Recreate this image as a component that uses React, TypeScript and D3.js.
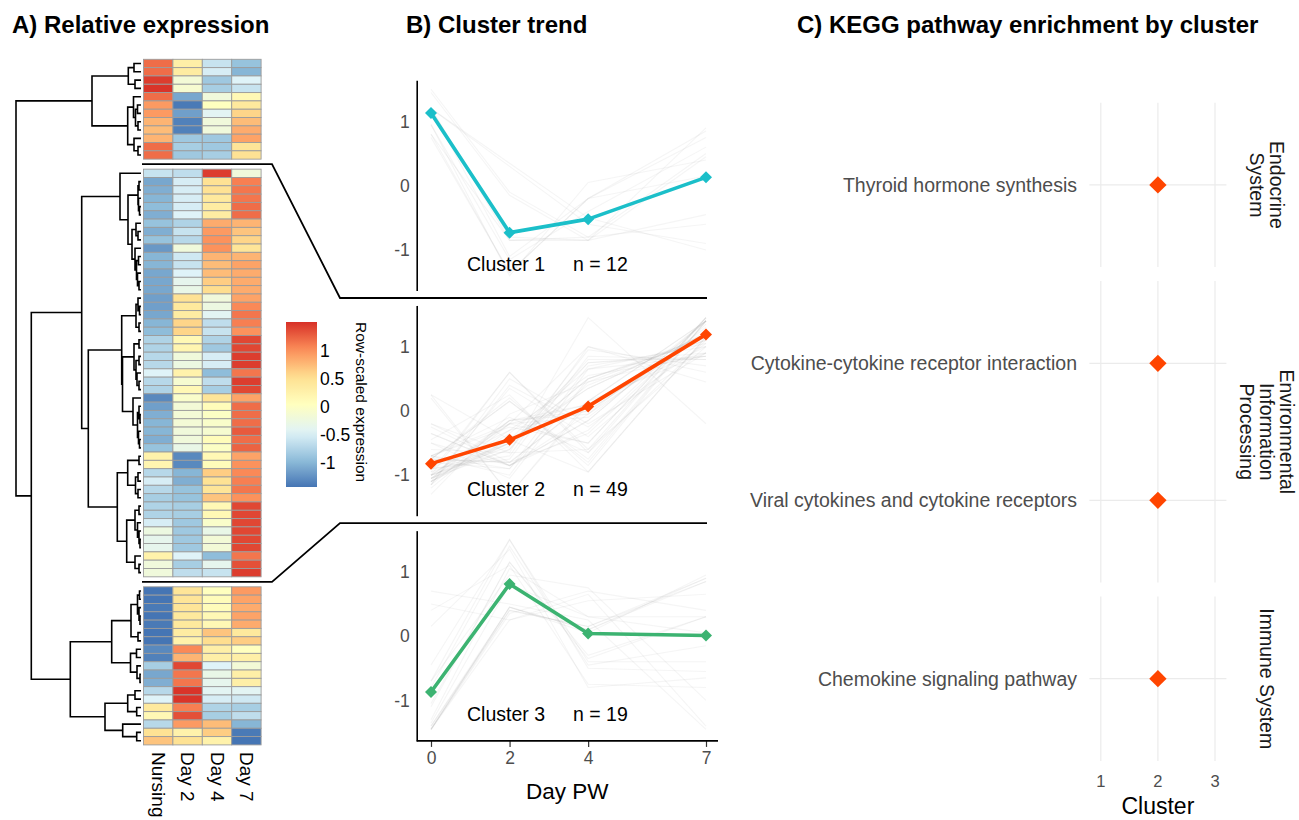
import { useRef, useEffect } from 'react';
import * as d3 from 'd3';

const FONT = '"Liberation Sans", Arial, Helvetica, sans-serif';

// heatmap columns / time points
const samples = ['Nursing', 'Day 2', 'Day 4', 'Day 7'];
const days = [0, 2, 4, 7];

// row-scaled expression, one row per gene: [Nursing, Day 2, Day 4, Day 7]
const cluster1Rows = [
  [1.2, 0.3, -0.6, -0.9],
  [1.2, 0.35, -0.5, -1.0],
  [1.45, -0.15, -0.85, -0.45],
  [1.5, -0.1, -0.8, -0.6],
  [1.2, -1.1, -0.2, 0.15],
  [0.95, -1.4, 0.05, 0.4],
  [0.95, -1.15, -0.4, 0.6],
  [0.8, -1.35, -0.2, 0.75],
  [0.75, -1.35, -0.2, 0.85],
  [0.8, -0.85, -0.85, 0.9],
  [1.2, -0.8, -0.85, 0.45],
  [1.2, -0.85, -0.8, 0.5],
];

const cluster2Rows = [
  [-0.6, -0.65, 1.45, -0.2],
  [-1.1, -0.5, 0.5, 1.1],
  [-1.05, -0.5, 0.5, 1.15],
  [-1.0, -0.5, 0.4, 1.15],
  [-0.95, -0.5, 0.35, 1.2],
  [-1.05, -0.45, 0.35, 1.2],
  [-0.9, -0.75, 0.85, 0.8],
  [-1.05, -0.6, 0.95, 0.7],
  [-0.9, -0.7, 1.0, 0.6],
  [-1.2, -0.2, 1.0, 0.45],
  [-1.0, -0.55, 0.8, 0.8],
  [-1.0, -0.6, 0.75, 0.9],
  [-1.1, -0.45, 0.75, 0.85],
  [-1.1, -0.35, 0.65, 0.85],
  [-1.1, -0.3, 0.55, 0.85],
  [-1.15, 0.5, -0.2, 0.9],
  [-1.15, 0.4, -0.25, 1.05],
  [-1.1, 0.35, -0.4, 1.15],
  [-1.0, 0.6, -0.65, 1.1],
  [-0.95, 0.6, -0.6, 1.0],
  [-0.75, 0.15, -0.75, 1.4],
  [-0.75, 0.2, -0.85, 1.4],
  [-0.7, -0.2, -0.5, 1.45],
  [-0.7, -0.25, -0.5, 1.45],
  [-0.45, 0.25, -0.95, 1.15],
  [-0.7, -0.1, -0.65, 1.45],
  [-0.75, 0.15, -0.8, 1.4],
  [-1.3, -0.05, 0.45, 0.9],
  [-1.15, -0.15, 0.1, 1.2],
  [-1.05, -0.15, 0.0, 1.2],
  [-1.0, -0.15, -0.05, 1.2],
  [-1.0, -0.2, -0.1, 1.3],
  [-1.05, -0.2, 0.1, 1.2],
  [-0.9, -0.3, 0.0, 1.25],
  [0.25, -1.3, 0.15, 0.9],
  [0.2, -1.3, 0.1, 1.0],
  [-0.7, -1.0, 0.65, 1.05],
  [-0.5, -1.05, 0.5, 1.1],
  [-0.7, -0.9, 0.45, 1.15],
  [-0.8, -0.9, 0.7, 1.0],
  [-0.75, -0.8, 0.15, 1.4],
  [-0.75, -0.8, 0.15, 1.4],
  [-0.5, -0.85, -0.05, 1.4],
  [-0.25, -0.85, -0.3, 1.4],
  [-0.35, -0.85, -0.15, 1.4],
  [-0.35, -0.85, -0.15, 1.4],
  [0.25, -0.45, -0.95, 1.15],
  [-0.2, -0.8, -0.35, 1.35],
  [-0.2, -0.65, -0.6, 1.45],
];

const cluster3Rows = [
  [-1.45, 0.45, 0.05, 0.95],
  [-1.45, 0.45, 0.1, 0.9],
  [-1.4, 0.45, 0.1, 0.85],
  [-1.45, 0.4, 0.15, 0.9],
  [-1.4, 0.4, 0.15, 0.85],
  [-1.45, 0.35, 0.7, 0.4],
  [-1.45, 0.25, 0.55, 0.65],
  [-1.3, 1.05, 0.3, 0.05],
  [-1.35, 0.8, 0.3, 0.3],
  [-0.8, 1.4, -0.45, -0.15],
  [-1.1, 1.15, -0.3, 0.3],
  [-1.05, 1.15, -0.35, 0.3],
  [-0.7, 1.5, -0.4, -0.4],
  [-0.45, 1.5, -0.5, -0.55],
  [0.4, 1.1, -0.75, -0.8],
  [0.15, 1.35, -0.8, -0.65],
  [-0.7, 0.95, 0.75, -1.0],
  [0.5, 0.25, 0.65, -1.4],
  [0.7, 0.5, 0.25, -1.45],
];

// row dendrogram: leaf = global row index, node = [left, right, height]
type Tree = number | [Tree, Tree, number];
const dendroCluster1: Tree = [
  [[0, 1, 0.7], [2, 3, 0.6], 1.27],
  [[4, [[5, 6, 0.35], [7, 8, 0.3], 0.55], 0.75], [9, [10, 11, 0.3], 0.7], 1.33],
  4.9,
];
const dendroCluster2: Tree = [
  [12, [[[13, 14, 0.2], [15, [16, 17, 0.15], 0.25], 0.3], [[18, [19, 20, 0.3], 0.5], [21, [[22, 23, 0.25], [24, [25, 26, 0.2], 0.35], 0.45], 0.6], 0.9], 1.3], 2.1],
  [
    [
      [[27, [28, 29, 0.15], 0.3], [30, 31, 0.2], 0.5],
      [
        [[32, 33, 0.2], [[34, 35, 0.2], [36, [37, 38, 0.2], 0.4], 0.5], 0.7],
        [39, [[40, [41, 42, 0.1], 0.2], [43, [44, 45, 0.15], 0.25], 0.35], 0.8],
        1.85,
      ],
      1.93,
    ],
    [
      [[46, 47, 0.2], [[48, 49, 0.3], [50, 51, 0.3], 0.55], 1.33],
      [[[52, 53, 0.2], [54, [55, [56, 57, 0.1], 0.2], 0.35], 0.6], [58, [59, 60, 0.2], 0.6], 1.43],
      2.37,
    ],
    5.27,
  ],
  5.93,
];
const dendroCluster3: Tree = [
  [[[[61, 62, 0.15], [63, [64, 65, 0.1], 0.2], 0.35], [66, 67, 0.3], 1.0], [[68, 69, 0.45], [70, [71, 72, 0.1], 0.4], 1.05], 2.93],
  [[[73, 74, 0.6], [75, 76, 0.43], 1.33], [77, [78, 79, 0.43], 1.83], 3.6],
  7.07,
];
const dendroRoot: Tree = [dendroCluster1, [dendroCluster2, dendroCluster3, 10.97], 12.5];

// colour key
const colourRange = [-1.43, 1.52];
const colourKeyTicks = [-1, -0.5, 0, 0.5, 1];
const palette = ['#4575B4', '#91BFDB', '#E0F3F8', '#FFFFBF', '#FEE090', '#FC8D59', '#D73027'];

// cluster trend
const clusterNames = ['Cluster 1', 'Cluster 2', 'Cluster 3'];
const clusterColors = ['#1bbfc9', '#ff4500', '#3cb371'];
const clusterMeans = [
  [1.13, -0.73, -0.52, 0.13],
  [-0.82, -0.45, 0.07, 1.19],
  [-0.87, 0.81, 0.04, 0.01],
];

// KEGG enrichment
const keggCategories = ['Endocrine System', 'Environmental Information Processing', 'Immune System'];
const keggCategoryLines = [['Endocrine', 'System'], ['Environmental', 'Information', 'Processing'], ['Immune System']];
const keggPathways = [
  'Thyroid hormone synthesis',
  'Cytokine-cytokine receptor interaction',
  'Viral cytokines and cytokine receptors',
  'Chemokine signaling pathway',
];
const keggPathwayCategory = [0, 1, 1, 2];
const keggPathwayCluster = [2, 2, 2, 2];
const clusterTicks = [1, 2, 3];

const diamond = {
  draw(ctx: d3.Path, size: number) {
    const r = Math.sqrt(size / 2);
    ctx.moveTo(0, -r);
    ctx.lineTo(r, 0);
    ctx.lineTo(0, r);
    ctx.lineTo(-r, 0);
    ctx.closePath();
  },
};

export default function App() {
  const svgRef = useRef<SVGSVGElement>(null);

  useEffect(() => {
    document.body.style.margin = '0';
    if (!svgRef.current) return;
    const svg = d3.select(svgRef.current);
    svg.selectAll('*').remove();
    svg.attr('font-family', FONT);

    // titles
    const titles: [string, number][] = [
      ['A) Relative expression', 12],
      ['B) Cluster trend', 406],
      ['C) KEGG pathway enrichment by cluster', 797],
    ];
    svg
      .selectAll('text.title')
      .data(titles)
      .join('text')
      .attr('class', 'title')
      .attr('x', (d) => d[1])
      .attr('y', 33)
      .attr('font-size', 24)
      .attr('font-weight', 'bold')
      .attr('fill', '#000')
      .text((d) => d[0]);

    // ---------- A) heatmap ----------
    const clusterRows = [cluster1Rows, cluster2Rows, cluster3Rows];
    const rows = clusterRows.flatMap((rs, c) => rs.map((v) => ({ c, v })));
    const rowH = 8.32;
    const gap = 10;
    const hmTop = 59.3;
    const rowY = (i: number) => hmTop + i * rowH + rows[i].c * gap;

    const xCol = d3.scaleBand<string>().domain(samples).range([143.5, 261.1]);
    const colour = d3
      .scaleLinear<string>()
      .domain(d3.range(palette.length).map((i) => colourRange[0] + (i * (colourRange[1] - colourRange[0])) / (palette.length - 1)))
      .range(palette)
      .clamp(true);

    const hm = svg.append('g');
    rows.forEach((r, i) => {
      hm.selectAll(null)
        .data(r.v)
        .join('rect')
        .attr('x', (_, j) => xCol(samples[j])!)
        .attr('y', rowY(i))
        .attr('width', xCol.bandwidth())
        .attr('height', rowH)
        .attr('fill', (d) => colour(d))
        .attr('stroke', '#9c9c9c')
        .attr('stroke-width', 0.9);
    });

    svg
      .append('g')
      .selectAll('text')
      .data(samples)
      .join('text')
      .attr('transform', (d) => `translate(${xCol(d)! + xCol.bandwidth() / 2},752) rotate(90)`)
      .attr('dominant-baseline', 'central')
      .attr('font-size', 19)
      .attr('fill', '#000')
      .text((d) => d);

    // dendrogram
    const hx = d3.scaleLinear().domain([0, 12.5]).range([141, 16]);
    const dp = d3.path();
    const walk = (t: Tree): { y: number; h: number } => {
      if (typeof t === 'number') return { y: rowY(t) + rowH / 2, h: 0 };
      const a = walk(t[0]);
      const b = walk(t[1]);
      const x = hx(t[2]);
      dp.moveTo(hx(a.h), a.y);
      dp.lineTo(x, a.y);
      dp.lineTo(x, b.y);
      dp.lineTo(hx(b.h), b.y);
      return { y: (a.y + b.y) / 2, h: t[2] };
    };
    walk(dendroRoot);
    svg
      .append('path')
      .attr('d', dp.toString())
      .attr('fill', 'none')
      .attr('stroke', '#000')
      .attr('stroke-width', 1.6);

    // colour key
    const keyY = d3.scaleLinear().domain(colourRange).range([487, 322]);
    const grad = svg
      .append('defs')
      .append('linearGradient')
      .attr('id', 'keygrad')
      .attr('x1', 0)
      .attr('y1', 1)
      .attr('x2', 0)
      .attr('y2', 0);
    grad
      .selectAll('stop')
      .data(d3.range(0, 1.0001, 0.05))
      .join('stop')
      .attr('offset', (d) => d)
      .attr('stop-color', (d) => colour(colourRange[0] + d * (colourRange[1] - colourRange[0])));
    svg
      .append('rect')
      .attr('x', 286)
      .attr('y', keyY(colourRange[1]))
      .attr('width', 31)
      .attr('height', keyY(colourRange[0]) - keyY(colourRange[1]))
      .attr('fill', 'url(#keygrad)');
    svg
      .append('g')
      .selectAll('text')
      .data(colourKeyTicks)
      .join('text')
      .attr('x', 320)
      .attr('y', (d) => keyY(d))
      .attr('dominant-baseline', 'central')
      .attr('font-size', 17.5)
      .attr('fill', '#000')
      .text((d) => String(d));
    svg
      .append('text')
      .attr('transform', `translate(361,${keyY(colourRange[1])}) rotate(90)`)
      .attr('dominant-baseline', 'central')
      .attr('font-size', 15.5)
      .attr('fill', '#000')
      .text('Row-scaled expression');

    // ---------- B) cluster trend ----------
    const x = d3.scaleLinear().domain([0, 7]).range([431, 706]);
    const unit = 64.3;
    const yDomain: [number, number] = [-1.63, 1.64];
    const subY = clusterNames.map((_, c) => {
      const zero = 185.7 + c * 225.2;
      return d3
        .scaleLinear()
        .domain(yDomain)
        .range([zero - yDomain[0] * unit, zero - yDomain[1] * unit]);
    });
    const axisX = 416.7;

    clusterNames.forEach((name, c) => {
      const y = subY[c];
      const g = svg.append('g');
      const line = d3
        .line<number>()
        .x((_, j) => x(days[j]))
        .y((v) => y(v));

      g.selectAll('path.gene')
        .data(clusterRows[c])
        .join('path')
        .attr('class', 'gene')
        .attr('d', (d) => line(d))
        .attr('fill', 'none')
        .attr('stroke', '#a0a0a0')
        .attr('stroke-opacity', 0.11)
        .attr('stroke-width', 1.1);

      g.append('path')
        .attr('d', line(clusterMeans[c]))
        .attr('fill', 'none')
        .attr('stroke', clusterColors[c])
        .attr('stroke-width', 3.6)
        .attr('stroke-linejoin', 'round');

      g.selectAll('path.pt')
        .data(clusterMeans[c])
        .join('path')
        .attr('class', 'pt')
        .attr('transform', (v, j) => `translate(${x(days[j])},${y(v)})`)
        .attr('d', d3.symbol(diamond, 72)())
        .attr('fill', clusterColors[c]);

      const yAxis = g
        .append('g')
        .attr('transform', `translate(${axisX},0)`)
        .call(
          d3
            .axisLeft(y)
            .tickValues([-1, 0, 1])
            .tickSize(0)
            .tickSizeOuter(0)
            .tickPadding(7)
            .tickFormat((d) => String(d))
        );
      yAxis.select('.domain').attr('stroke', '#000').attr('stroke-width', 1.6);
      yAxis
        .selectAll('text')
        .attr('font-family', FONT)
        .attr('font-size', 17.5)
        .attr('fill', '#4d4d4d');

      const ty = y(0) + 85;
      g.append('text').attr('x', 467).attr('y', ty).attr('font-size', 19.5).attr('fill', '#000').text(name);
      g.append('text')
        .attr('x', 573)
        .attr('y', ty)
        .attr('font-size', 19.5)
        .attr('fill', '#000')
        .text(`n = ${clusterRows[c].length}`);
    });

    // x axis below the last cluster
    const bottomY = subY[2](yDomain[0]);
    const xAxis = svg
      .append('g')
      .attr('transform', `translate(0,${bottomY})`)
      .call(
        d3
          .axisBottom(x)
          .tickValues(days)
          .tickSize(6)
          .tickPadding(5)
          .tickFormat((d) => String(d))
      );
    xAxis.select('.domain').remove();
    xAxis.selectAll('line').attr('stroke', '#333').attr('stroke-width', 1.2);
    xAxis.selectAll('text').attr('font-family', FONT).attr('font-size', 17.5).attr('fill', '#4d4d4d');
    svg
      .append('line')
      .attr('x1', axisX)
      .attr('x2', 718)
      .attr('y1', bottomY)
      .attr('y2', bottomY)
      .attr('stroke', '#000')
      .attr('stroke-width', 1.6);
    svg
      .append('text')
      .attr('x', (axisX + 718) / 2)
      .attr('y', 799)
      .attr('text-anchor', 'middle')
      .attr('font-size', 22.5)
      .attr('fill', '#000')
      .text('Day PW');

    // connectors between heatmap cluster gaps and trend panels
    const hmGap1 = rowY(cluster1Rows.length) - gap / 2;
    const hmGap2 = rowY(cluster1Rows.length + cluster2Rows.length) - gap / 2;
    const bGap1 = (subY[0](yDomain[0]) + subY[1](yDomain[1])) / 2;
    const bGap2 = (subY[1](yDomain[0]) + subY[2](yDomain[1])) / 2;
    const conn = d3.line();
    [
      [hmGap1, bGap1],
      [hmGap2, bGap2],
    ].forEach(([a, b]) => {
      svg
        .append('path')
        .attr(
          'd',
          conn([
            [142, a],
            [272, a],
            [340, b],
            [707, b],
          ])
        )
        .attr('fill', 'none')
        .attr('stroke', '#000')
        .attr('stroke-width', 1.8);
    });

    // ---------- C) KEGG ----------
    const cx = d3.scaleLinear().domain([0.8, 3.2]).range([1089.4, 1226.4]);
    const step = 137;
    const facetGap = 14;
    let top = 102.7;
    const pc = svg.append('g');
    keggCategories.forEach((cat, k) => {
      const paths = keggPathways.filter((_, i) => keggPathwayCategory[i] === k);
      const clusters = keggPathwayCluster.filter((_, i) => keggPathwayCategory[i] === k);
      const h = (paths.length + 0.2) * step;
      const py = d3.scalePoint<string>().domain(paths).range([top, top + h]).padding(0.6);

      pc.selectAll(null)
        .data(clusterTicks)
        .join('line')
        .attr('x1', (d) => cx(d))
        .attr('x2', (d) => cx(d))
        .attr('y1', top)
        .attr('y2', top + h)
        .attr('stroke', '#ebebeb')
        .attr('stroke-width', 1.2);
      pc.selectAll(null)
        .data(paths)
        .join('line')
        .attr('x1', cx.range()[0])
        .attr('x2', cx.range()[1])
        .attr('y1', (d) => py(d)!)
        .attr('y2', (d) => py(d)!)
        .attr('stroke', '#ebebeb')
        .attr('stroke-width', 1.2);
      pc.selectAll(null)
        .data(paths)
        .join('text')
        .attr('x', 1077)
        .attr('y', (d) => py(d)!)
        .attr('text-anchor', 'end')
        .attr('dominant-baseline', 'central')
        .attr('font-size', 19.5)
        .attr('fill', '#4d4d4d')
        .text((d) => d);
      pc.selectAll(null)
        .data(paths)
        .join('path')
        .attr('transform', (d, i) => `translate(${cx(clusters[i])},${py(d)})`)
        .attr('d', d3.symbol(diamond, 150)())
        .attr('fill', '#ff4500');

      const lines = keggCategoryLines[k];
      const strip = pc
        .append('text')
        .attr('transform', `translate(1267,${top + h / 2}) rotate(90)`)
        .attr('text-anchor', 'middle')
        .attr('font-size', 19.5)
        .attr('fill', '#1a1a1a')
        .attr('aria-label', cat);
      lines.forEach((l, i) => {
        strip
          .append('tspan')
          .attr('x', 0)
          .attr('y', (i - (lines.length - 1) / 2) * 20)
          .attr('dominant-baseline', 'central')
          .text(l);
      });
      top += h + facetGap;
    });

    pc.selectAll(null)
      .data(clusterTicks)
      .join('text')
      .attr('x', (d) => cx(d))
      .attr('y', 787)
      .attr('text-anchor', 'middle')
      .attr('font-size', 16.5)
      .attr('fill', '#4d4d4d')
      .text((d) => String(d));
    pc.append('text')
      .attr('x', cx(2))
      .attr('y', 814)
      .attr('text-anchor', 'middle')
      .attr('font-size', 23)
      .attr('fill', '#000')
      .text('Cluster');
  }, []);

  return <svg ref={svgRef} width={1299} height={820} style={{ display: 'block', background: '#fff' }} />;
}
